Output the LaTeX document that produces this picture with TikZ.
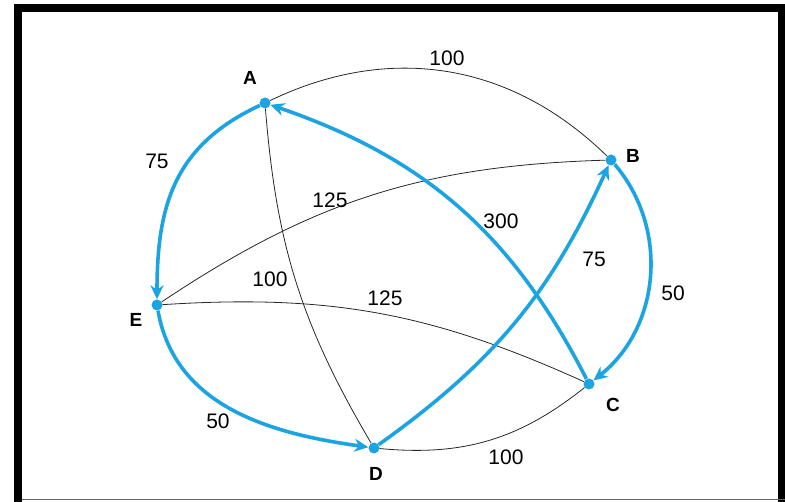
\documentclass[tikz,border=0pt]{standalone}
\usepackage{fontspec}
\setmainfont{Liberation Sans}
\usepackage{xcolor}
\definecolor{route}{HTML}{1CA3E2}
\usepackage{tikz}
\usetikzlibrary{arrows.meta}

\begin{document}
\begin{tikzpicture}[x=1pt,y=1pt,font=\fontsize{21}{25}\selectfont,
  city/.style={circle,fill=route,inner sep=0pt,minimum size=11pt},
  cityname/.style={font=\fontsize{19}{22}\selectfont\bfseries,inner sep=1pt},
  weight/.style={inner sep=1pt},
  road/.style={line width=0.8pt,black!85},
  trip/.style={route,line width=3.6pt,-{Stealth[length=14pt,width=13pt]}}]
  \useasboundingbox (0,0) rectangle (785,-502);
  % frame
  \fill[black] (14,-4) rectangle (22,-502);
  \fill[black] (14,-4) rectangle (785,-12);
  \fill[black] (778,-4) rectangle (785,-502);
  \draw[black!60,line width=1pt] (22,-500) -- (785,-500);
  % cities
  \node[city] (a) at (265,-103) {};
  \node[city] (b) at (611,-160) {};
  \node[city] (c) at (589,-384) {};
  \node[city] (d) at (374,-448) {};
  \node[city] (e) at (157,-305) {};
  \node[cityname] (na) at (250,-78) {A};
  \node[cityname] (nb) at (633,-156) {B};
  \node[cityname] (nc) at (613,-405) {C};
  \node[cityname] (nd) at (376,-474) {D};
  \node[cityname] (ne) at (136,-320) {E};
  % roads
  \draw[road] (a) to[bend left=35] (b);
  \draw[road] (a) to[bend right=13] (d);
  \draw[road] (e) to[bend left=16] (b);
  \draw[road] (e) to[bend left=14] (c);
  \draw[road] (d) to[bend right=22] (c);
  % tour
  \draw[trip] (a) to[out=205,in=90,looseness=1.1] (e);
  \draw[trip] (e) to[out=-80,in=172] (d);
  \draw[trip] (d) to[bend right=15] (b);
  \draw[trip] (b) to[bend left=46] (c);
  \draw[trip] (c) to[bend right=22] (a);
  % weights
  \node[weight] (w1) at (447,-58) {100};
  \node[weight] (w2) at (157,-161) {75};
  \node[weight] (w3) at (330,-200) {125};
  \node[weight] (w4) at (501,-221) {300};
  \node[weight] (w5) at (594,-259) {75};
  \node[weight] (w6) at (673,-293) {50};
  \node[weight] (w7) at (270,-279) {100};
  \node[weight] (w8) at (385,-298) {125};
  \node[weight] (w9) at (218,-421) {50};
  \node[weight] (w10) at (506,-457) {100};
\end{tikzpicture}
\end{document}
